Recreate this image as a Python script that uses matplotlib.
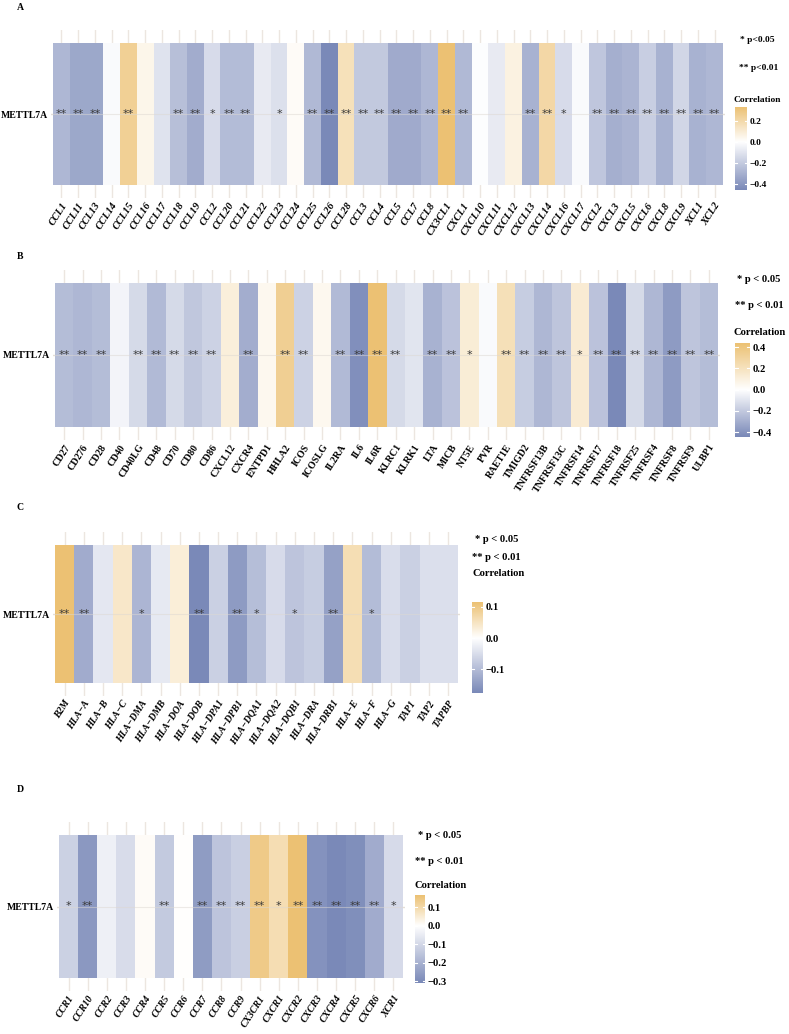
import numpy as np
import matplotlib
matplotlib.use("Agg")
import matplotlib.pyplot as plt
from matplotlib.colors import LinearSegmentedColormap, TwoSlopeNorm

W, H, DPI = 789, 1034, 100
SERIF = ["Liberation Serif", "DejaVu Serif"]

# ---------------- data ----------------
row_label = "METTL7A"

genes_A = ["CCL1", "CCL11", "CCL13", "CCL14", "CCL15", "CCL16", "CCL17", "CCL18", "CCL19", "CCL2",
           "CCL20", "CCL21", "CCL22", "CCL23", "CCL24", "CCL25", "CCL26", "CCL28", "CCL3", "CCL4",
           "CCL5", "CCL7", "CCL8", "CX3CL1", "CXCL1", "CXCL10", "CXCL11", "CXCL12", "CXCL13", "CXCL14",
           "CXCL16", "CXCL17", "CXCL2", "CXCL3", "CXCL5", "CXCL6", "CXCL8", "CXCL9", "XCL1", "XCL2"]
corr_A = [-0.28, -0.34, -0.34, -0.02, 0.25, 0.05, -0.11, -0.25, -0.32, -0.14,
          -0.26, -0.26, -0.08, -0.12, 0.02, -0.27, -0.46, 0.16, -0.21, -0.21,
          -0.33, -0.33, -0.28, 0.33, -0.27, -0.01, -0.08, 0.07, -0.30, 0.21,
          -0.14, -0.02, -0.22, -0.31, -0.29, -0.19, -0.30, -0.16, -0.30, -0.28]
sig_A = ["**", "**", "**", "", "**", "", "", "**", "**", "*",
         "**", "**", "", "*", "", "**", "**", "**", "**", "**",
         "**", "**", "**", "**", "**", "", "", "", "**", "**",
         "*", "", "**", "**", "**", "**", "**", "**", "**", "**"]

genes_B = ["CD27", "CD276", "CD28", "CD40", "CD40LG", "CD48", "CD70", "CD80", "CD86", "CXCL12",
           "CXCR4", "ENTPD1", "HHLA2", "ICOS", "ICOSLG", "IL2RA", "IL6", "IL6R", "KLRC1", "KLRK1",
           "LTA", "MICB", "NT5E", "PVR", "RAET1E", "TMIGD2", "TNFRSF13B", "TNFRSF13C", "TNFRSF14",
           "TNFRSF17", "TNFRSF18", "TNFRSF25", "TNFRSF4", "TNFRSF8", "TNFRSF9", "ULBP1"]
corr_B = [-0.25, -0.27, -0.25, -0.04, -0.14, -0.26, -0.14, -0.21, -0.17, 0.11,
          -0.31, 0.05, 0.34, -0.17, 0.05, -0.26, -0.42, 0.44, -0.14, -0.10,
          -0.29, -0.23, 0.13, -0.02, 0.22, -0.19, -0.27, -0.22, 0.14,
          -0.23, -0.447, -0.14, -0.27, -0.38, -0.22, -0.25]
sig_B = ["**", "**", "**", "", "**", "**", "**", "**", "**", "",
         "**", "", "**", "**", "", "**", "**", "**", "**", "",
         "**", "**", "*", "", "**", "**", "**", "**", "*",
         "**", "**", "**", "**", "**", "**", "**"]

genes_C = ["B2M", "HLA\u2212A", "HLA\u2212B", "HLA\u2212C", "HLA\u2212DMA", "HLA\u2212DMB", "HLA\u2212DOA",
           "HLA\u2212DOB", "HLA\u2212DPA1", "HLA\u2212DPB1", "HLA\u2212DQA1", "HLA\u2212DQA2", "HLA\u2212DQB1",
           "HLA\u2212DRA", "HLA\u2212DRB1", "HLA\u2212E", "HLA\u2212F", "HLA\u2212G", "TAP1", "TAP2", "TAPBP"]
corr_C = [0.116, -0.125, -0.035, 0.045, -0.11, -0.032, 0.032,
          -0.177, -0.07, -0.15, -0.097, -0.053, -0.088,
          -0.075, -0.14, 0.062, -0.10, -0.05, -0.07, -0.048, -0.048]
sig_C = ["**", "**", "", "", "*", "", "",
         "**", "", "**", "*", "", "*",
         "", "**", "", "*", "", "", "", ""]

genes_D = ["CCR1", "CCR10", "CCR2", "CCR3", "CCR4", "CCR5", "CCR6", "CCR7", "CCR8", "CCR9",
           "CX3CR1", "CXCR1", "CXCR2", "CXCR3", "CXCR4", "CXCR5", "CXCR6", "XCR1"]
corr_D = [-0.12, -0.27, -0.04, -0.09, 0.01, -0.14, 0.002, -0.26, -0.155, -0.125,
          0.14, 0.09, 0.165, -0.285, -0.31, -0.295, -0.22, -0.095]
sig_D = ["*", "**", "", "", "", "**", "", "**", "**", "**",
         "**", "*", "**", "**", "**", "**", "**", "*"]

ticks_A = [-0.4, -0.2, 0.0, 0.2]
ticks_B = [-0.4, -0.2, 0.0, 0.2, 0.4]
ticks_C = [-0.1, 0.0, 0.1]
ticks_D = [-0.3, -0.2, -0.1, 0.0, 0.1]

# ---------------- style / layout ----------------
cmap = LinearSegmentedColormap.from_list("corr", ["#7A89B8", "#FFFFFF", "#ECC173"])

panels = [
    dict(letter="A", genes=genes_A, corr=corr_A, sig=sig_A, ticks=ticks_A, italic=True,
         tiles=(53, 43, 723, 185), letter_xy=(20, 7), fs=7.5,
         p1=("* p<0.05", 740, 40), p2=("** p<0.01", 739, 68), lab=(734, 100),
         cbar=(735, 107, 747, 190), lfs=6.8),
    dict(letter="B", genes=genes_B, corr=corr_B, sig=sig_B, ticks=ticks_B, italic=False,
         tiles=(55, 283, 718, 427), letter_xy=(20, 257), fs=7.0,
         p1=("* p < 0.05", 737, 279), p2=("** p < 0.01", 735, 306), lab=(734, 332),
         cbar=(735, 343, 750, 437), lfs=7.6),
    dict(letter="C", genes=genes_C, corr=corr_C, sig=sig_C, ticks=ticks_C, italic=True,
         tiles=(55, 545, 458, 683), letter_xy=(20, 508), fs=7.0,
         p1=("* p < 0.05", 475, 540), p2=("** p < 0.01", 472, 557), lab=(472, 573),
         cbar=(472, 602, 483, 693), lfs=7.6),
    dict(letter="D", genes=genes_D, corr=corr_D, sig=sig_D, ticks=ticks_D, italic=True,
         tiles=(59, 835, 403, 978), letter_xy=(20, 789), fs=7.0,
         p1=("* p < 0.05", 418, 836), p2=("** p < 0.01", 415, 861), lab=(414, 885),
         cbar=(415, 895, 425, 983), lfs=7.6),
]


def box(x0, y0, x1, y1):
    return [x0 / W, 1 - y1 / H, (x1 - x0) / W, (y1 - y0) / H]


fig = plt.figure(figsize=(W / DPI, H / DPI), dpi=DPI)
fig.patch.set_facecolor("white")

for p in panels:
    genes, corr, sig = p["genes"], np.array(p["corr"]), p["sig"]
    n = len(genes)
    tx0, ty0, tx1, ty1 = p["tiles"]
    colw = (tx1 - tx0) / n
    eyp = 13
    ax = fig.add_axes(box(tx0 - 0.1 * colw, ty0 - eyp, tx1 + 0.1 * colw, ty1 + eyp))
    eyf = eyp / (ty1 - ty0)
    vmin, vmax = corr.min(), corr.max()
    norm = TwoSlopeNorm(vcenter=0.0, vmin=vmin, vmax=vmax)

    xe = np.arange(n + 1) - 0.5
    ye = np.array([0.0, 1.0])
    ax.pcolormesh(xe, ye, corr.reshape(1, -1), cmap=cmap, norm=norm, zorder=1)
    ax.set_xlim(-0.6, n - 0.4)
    ax.set_ylim(-eyf, 1 + eyf)
    ax.set_xticks(np.arange(n))
    ax.set_yticks([0.5])
    ax.set_axisbelow(True)
    ax.grid(True, color="#ECE6E0", lw=1.0)
    ax.axhline(0.5, color="#DDD8D2", lw=0.8, alpha=0.5, zorder=2)
    for s in ax.spines.values():
        s.set_visible(False)
    ax.tick_params(length=0)
    ax.set_yticklabels([row_label], fontfamily=SERIF, fontweight="bold", fontsize=7)
    ax.tick_params(axis="y", pad=2.5)
    ax.set_xticklabels(genes, rotation=57, ha="right", rotation_mode="anchor",
                       fontfamily=SERIF, fontweight="bold",
                       fontstyle="italic" if p["italic"] else "normal", fontsize=p["fs"])
    ax.tick_params(axis="x", pad=2)
    for i, s in enumerate(sig):
        if s:
            ax.text(i, 0.5, s, ha="center", va="center", fontsize=8, color="#3A3A3A",
                    fontfamily=["DejaVu Sans"], zorder=3)

    lx, ly = p["letter_xy"]
    fig.text(lx / W, 1 - ly / H, p["letter"], ha="center", va="center",
             fontfamily=SERIF, fontweight="bold", fontsize=7)

    lfs = p["lfs"]
    for txt, x, y in (p["p1"], p["p2"]):
        fig.text(x / W, 1 - y / H, txt, ha="left", va="center",
                 fontfamily=SERIF, fontweight="bold", fontsize=lfs)
    fig.text(p["lab"][0] / W, 1 - p["lab"][1] / H, "Correlation", ha="left", va="center",
             fontfamily=SERIF, fontweight="bold", fontsize=lfs)

    cx0, cy0, cx1, cy1 = p["cbar"]
    cax = fig.add_axes(box(cx0, cy0, cx1, cy1))
    grad = np.linspace(vmin, vmax, 256).reshape(-1, 1)
    cax.imshow(grad, aspect="auto", origin="lower", extent=[0, 1, vmin, vmax],
               cmap=cmap, norm=norm)
    cax.set_xlim(0, 1)
    cax.set_ylim(vmin, vmax)
    for t in p["ticks"]:
        cax.plot([0, 0.2], [t, t], color="white", lw=0.8)
        cax.plot([0.8, 1], [t, t], color="white", lw=0.8)
    cax.set_xticks([])
    cax.yaxis.tick_right()
    cax.set_yticks(p["ticks"])
    cax.set_yticklabels([f"{t:.1f}".replace("-", "\u2212") for t in p["ticks"]],
                        fontfamily=SERIF, fontweight="bold", fontsize=lfs)
    cax.tick_params(length=0, pad=2)
    for s in cax.spines.values():
        s.set_visible(False)

fig.savefig("out.png", dpi=DPI, facecolor="white")
